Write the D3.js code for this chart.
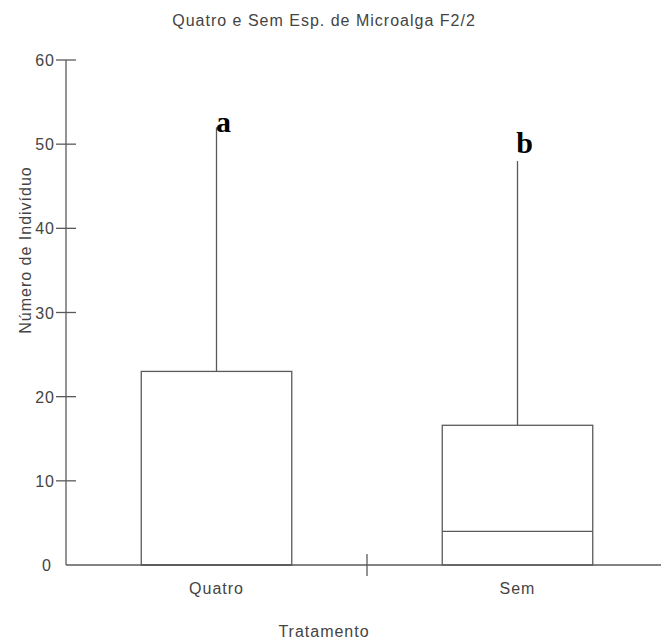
<!DOCTYPE html>
<html>
<head>
<meta charset="utf-8">
<script src="https://cdn.jsdelivr.net/npm/d3@7"></script>
<style>
  body { margin: 0; background: #fff; }
  text { font-family: "Liberation Sans", Arial, sans-serif; fill: #444; }
  .lbl { font-size: 16px; letter-spacing: 1px; }
  .letter { font-family: "Liberation Serif", "DejaVu Serif", serif; font-weight: bold; font-size: 30px; fill: #000; letter-spacing: 0; }
</style>
</head>
<body>
<svg width="661" height="641"></svg>
<script>
// data
var categories = ["Quatro", "Sem"];
var q1 = [0, 0];
var median = [0, 4];
var q3 = [23, 16.6];
var whiskerMax = [52, 48];
var letters = ["a", "b"];
var letterY = [51.4, 48.9];
var yTicks = [0, 10, 20, 30, 40, 50, 60];

var svg = d3.select("svg");
var lineColor = "#5a5a5a";

var x = d3.scaleBand().domain(categories).range([66, 668]);
var y = d3.scaleLinear().domain([0, 60]).range([565, 60]);

// title
svg.append("text")
  .attr("class", "lbl")
  .attr("x", 324).attr("y", 26)
  .attr("text-anchor", "middle")
  .text("Quatro e Sem Esp. de Microalga F2/2");

// y axis
var yAxis = svg.append("g").attr("transform", "translate(66,0)");
yAxis.append("line")
  .attr("y1", y(60)).attr("y2", y(0))
  .attr("stroke", lineColor).attr("stroke-width", 1.3);
yAxis.selectAll(".tk")
  .data(yTicks.filter(function(d) { return d > 0; }))
  .enter().append("line")
  .attr("x1", -10).attr("x2", 10)
  .attr("y1", function(d) { return y(d); })
  .attr("y2", function(d) { return y(d); })
  .attr("stroke", lineColor).attr("stroke-width", 1.3);
yAxis.selectAll(".tl")
  .data(yTicks)
  .enter().append("text")
  .attr("class", "lbl")
  .attr("x", function(d) { return d == 0 ? -14 : -11; })
  .attr("y", function(d) { return y(d) + 6; })
  .attr("text-anchor", "end")
  .text(function(d) { return d; });

svg.append("text")
  .attr("class", "lbl")
  .attr("transform", "translate(31,250) rotate(-90)")
  .attr("text-anchor", "middle")
  .text("Número de Indivíduo");

// x axis
svg.append("line")
  .attr("x1", 66).attr("x2", 661)
  .attr("y1", y(0)).attr("y2", y(0))
  .attr("stroke", lineColor).attr("stroke-width", 1.3);
svg.append("line")
  .attr("x1", x("Sem")).attr("x2", x("Sem"))
  .attr("y1", y(0) - 11).attr("y2", y(0) + 11)
  .attr("stroke", lineColor).attr("stroke-width", 1.3);

svg.selectAll(".xl")
  .data(categories)
  .enter().append("text")
  .attr("class", "lbl")
  .attr("x", function(d) { return x(d) + x.bandwidth() / 2; })
  .attr("y", 594)
  .attr("text-anchor", "middle")
  .text(function(d) { return d; });

svg.append("text")
  .attr("class", "lbl")
  .attr("x", 324).attr("y", 637)
  .attr("text-anchor", "middle")
  .text("Tratamento");

// boxes
var boxW = x.bandwidth() / 2;
var box = svg.selectAll(".box")
  .data(categories)
  .enter().append("g");

box.append("line")
  .attr("x1", function(d) { return x(d) + x.bandwidth() / 2; })
  .attr("x2", function(d) { return x(d) + x.bandwidth() / 2; })
  .attr("y1", function(d, i) { return y(whiskerMax[i]); })
  .attr("y2", function(d, i) { return y(q3[i]); })
  .attr("stroke", lineColor).attr("stroke-width", 1.3);

box.append("rect")
  .attr("x", function(d) { return x(d) + x.bandwidth() / 2 - boxW / 2; })
  .attr("y", function(d, i) { return y(q3[i]); })
  .attr("width", boxW)
  .attr("height", function(d, i) { return y(q1[i]) - y(q3[i]); })
  .attr("fill", "none")
  .attr("stroke", lineColor).attr("stroke-width", 1.3);

box.append("line")
  .attr("x1", function(d) { return x(d) + x.bandwidth() / 2 - boxW / 2; })
  .attr("x2", function(d) { return x(d) + x.bandwidth() / 2 + boxW / 2; })
  .attr("y1", function(d, i) { return y(median[i]); })
  .attr("y2", function(d, i) { return y(median[i]); })
  .attr("stroke", lineColor).attr("stroke-width", 1.3);

box.append("text")
  .attr("class", "letter")
  .attr("x", function(d) { return x(d) + x.bandwidth() / 2 + 7; })
  .attr("y", function(d, i) { return y(letterY[i]); })
  .attr("text-anchor", "middle")
  .text(function(d, i) { return letters[i]; });
</script>
</body>
</html>
